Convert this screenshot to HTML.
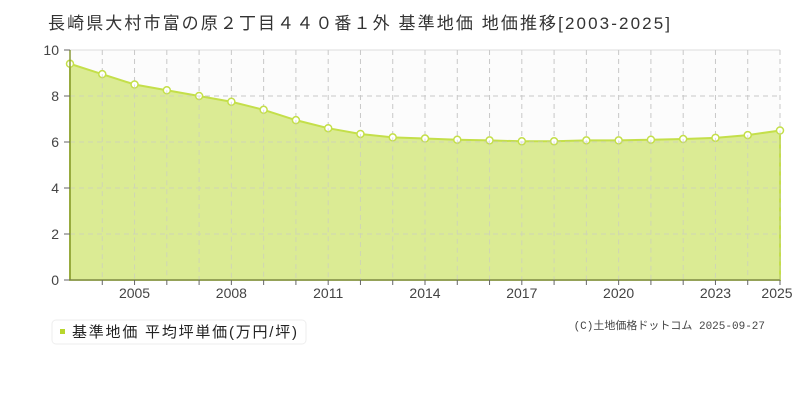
<!DOCTYPE html>
<html><head><meta charset="utf-8"><style>
body{margin:0;background:#fff;width:800px;height:400px;overflow:hidden;font-family:"Liberation Sans","Noto Sans CJK JP",sans-serif}
</style></head><body>
<svg width="800" height="400" xmlns="http://www.w3.org/2000/svg" style="position:absolute;left:0;top:0">
<text x="48" y="29" font-size="17" fill="#333" textLength="622" lengthAdjust="spacing" font-family="Liberation Sans,Noto Sans CJK JP,sans-serif">長崎県大村市富の原２丁目４４０番１外 基準地価 地価推移[2003-2025]</text>
<rect x="70" y="50" width="710" height="230" fill="#fcfcfc"/>
<line x1="70" y1="50" x2="780" y2="50" stroke="#ddd"/>
<g stroke="#c8c8c8" stroke-dasharray="5,4" fill="none" id="g"></g>
<path id="area" fill="#dbeb94" stroke="#c4df4a" stroke-width="2"/>
<g id="dots" fill="#fff" stroke="#c4df4a" stroke-width="1.5"></g>
<g stroke="#c8c8c8" stroke-dasharray="5,4" fill="none" id="g2" opacity="0.6"></g>
<line x1="70" y1="50" x2="70" y2="280" stroke="#8a9a3a" stroke-width="1.5"/>
<line x1="64" y1="280" x2="780" y2="280" stroke="#666"/>
<g id="ticks" stroke="#666"></g>
<g font-size="14" fill="#444" id="yl" text-anchor="end"></g>
<g font-size="14" fill="#444" id="xl" text-anchor="middle"></g>
<rect x="52" y="320" width="254" height="24" rx="4" fill="#fff" stroke="#eee"/>
<rect x="60" y="329" width="5" height="5" fill="#b8d62c"/>
<text x="72" y="337" font-size="15" fill="#222" textLength="225" lengthAdjust="spacing">基準地価 平均坪単価(万円/坪)</text>
<text x="765" y="329" font-size="11" fill="#444" text-anchor="end" font-family="Liberation Mono,Noto Sans CJK JP,monospace">(C)土地価格ドットコム 2025-09-27</text>
</svg>
<script>
var v=[9.4,8.95,8.5,8.25,8.0,7.75,7.4,6.95,6.6,6.35,6.2,6.15,6.1,6.07,6.03,6.03,6.07,6.07,6.1,6.13,6.18,6.3,6.5];
var X=i=>70+i*710/22,Y=a=>280-a*23,ns="http://www.w3.org/2000/svg";
function mk(p,t,a){var e=document.createElementNS(ns,t);for(var k in a)e.setAttribute(k,a[k]);p.appendChild(e);return e;}
var g=document.getElementById('g'),g2=document.getElementById('g2');
for(var i=1;i<=22;i++){mk(g,'line',{x1:X(i),y1:50,x2:X(i),y2:280});mk(g2,'line',{x1:X(i),y1:Y(v[i]),x2:X(i),y2:280});mk(document.getElementById('ticks'),'line',{x1:X(i),y1:280,x2:X(i),y2:285});}
for(var j=1;j<5;j++){mk(g,'line',{x1:70,y1:280-j*46,x2:780,y2:280-j*46});mk(g2,'line',{x1:70,y1:280-j*46,x2:780,y2:280-j*46});}
for(var j=0;j<=5;j++){mk(document.getElementById('ticks'),'line',{x1:64,y1:280-j*46,x2:70,y2:280-j*46});var t=mk(document.getElementById('yl'),'text',{x:59,y:285-j*46});t.textContent=j*2;}
var d='M70,280';v.forEach((a,i)=>d+=' L'+X(i)+','+Y(a));d+=' L780,280Z';
document.getElementById('area').setAttribute('d',d);
v.forEach((a,i)=>mk(document.getElementById('dots'),'circle',{cx:X(i),cy:Y(a),r:3.5}));
[2005,2008,2011,2014,2017,2020,2023,2025].forEach(y=>{var t=mk(document.getElementById('xl'),'text',{x:X(y-2003),y:298});if(y==2025)t.setAttribute('x',777);t.textContent=y;});
</script>
</body></html>
